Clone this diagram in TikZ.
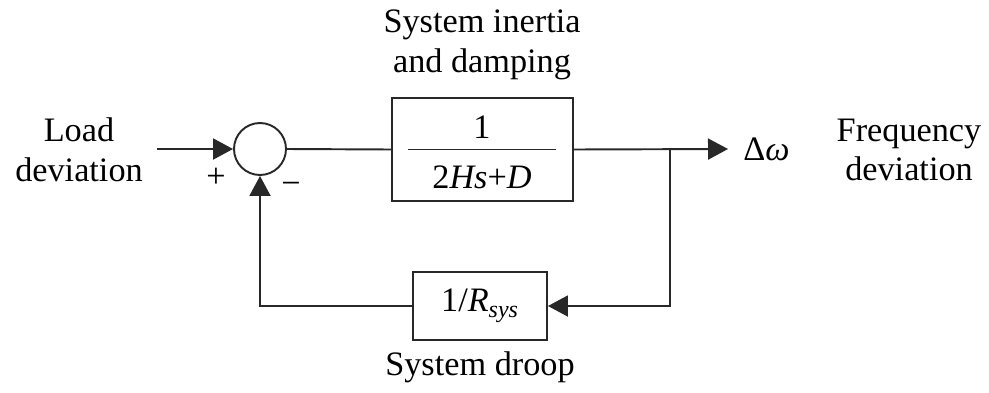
\documentclass[tikz,border=0pt]{standalone}
\usepackage{fontspec}
\setmainfont{Liberation Serif}
\usetikzlibrary{arrows.meta,positioning,calc}
\definecolor{wire}{RGB}{40,40,40}
\tikzset{
  blk/.style={draw=wire,line width=1.1pt,fill=white,inner sep=0pt},
  sumc/.style={circle,draw=wire,line width=1.1pt,minimum size=1.04cm,inner sep=0pt},
  lbl/.style={align=center,font=\fontsize{19.5}{22.7}\selectfont,inner sep=0pt},
  sgn/.style={font=\fontsize{19.5}{22.7}\selectfont,inner sep=0pt},
  line/.style={draw=wire,line width=1.1pt},
  arr/.style={line,-{Triangle[length=0.4cm,width=0.42cm]}}
}
\begin{document}
\begin{tikzpicture}[x=0.02cm,y=-0.02cm]
\useasboundingbox (0,0) rectangle (989,392);
% labels
\node[lbl] (load) at (79,150) {Load\\deviation};
\node[lbl] (inert) at (482,45) {System inertia\\and damping};
\node[lbl] (freq) at (909,150) {Frequency\\deviation};
\node[lbl] (drooptxt) at (480,367) {System droop};
% blocks
\node[sumc] (sumjn) at (260,149) {};
\node[blk,minimum width=3.62cm,minimum height=2.06cm] (plant) at (482.5,149.5) {};
\node[lbl] (num) at (482,127) {1};
\node[lbl] (den) at (482,177) {2\textit{Hs}+\textit{D}};
\draw[line] ($(plant.west)+(17,0)$) -- ($(plant.east)+(-18,0)$);
\node[blk,minimum width=2.68cm,minimum height=1.36cm,font=\fontsize{19.5}{22.7}\selectfont] (droop) at (480,306) {1/\textit{R}\textsubscript{\textit{sys}}};
\node[sgn] (plus) at (216,178) {+};
\node[sgn] (minus) at (291,188) {−};
% signals
\coordinate (lin) at (157,149);
\coordinate (branch) at (670,149);
\coordinate (yout) at (728,149);
\node[lbl,anchor=west] (dw) at (743,149) {Δ\textit{ω}};
\draw[arr] (lin) -- (sumjn.west);
\draw[line] (sumjn.east) -- (plant.west);
\draw[arr] (plant.east) -- (yout);
\draw[arr] (branch) |- (droop.east);
\draw[arr] (droop.west) -| (sumjn.south);

\end{tikzpicture}
\end{document}
